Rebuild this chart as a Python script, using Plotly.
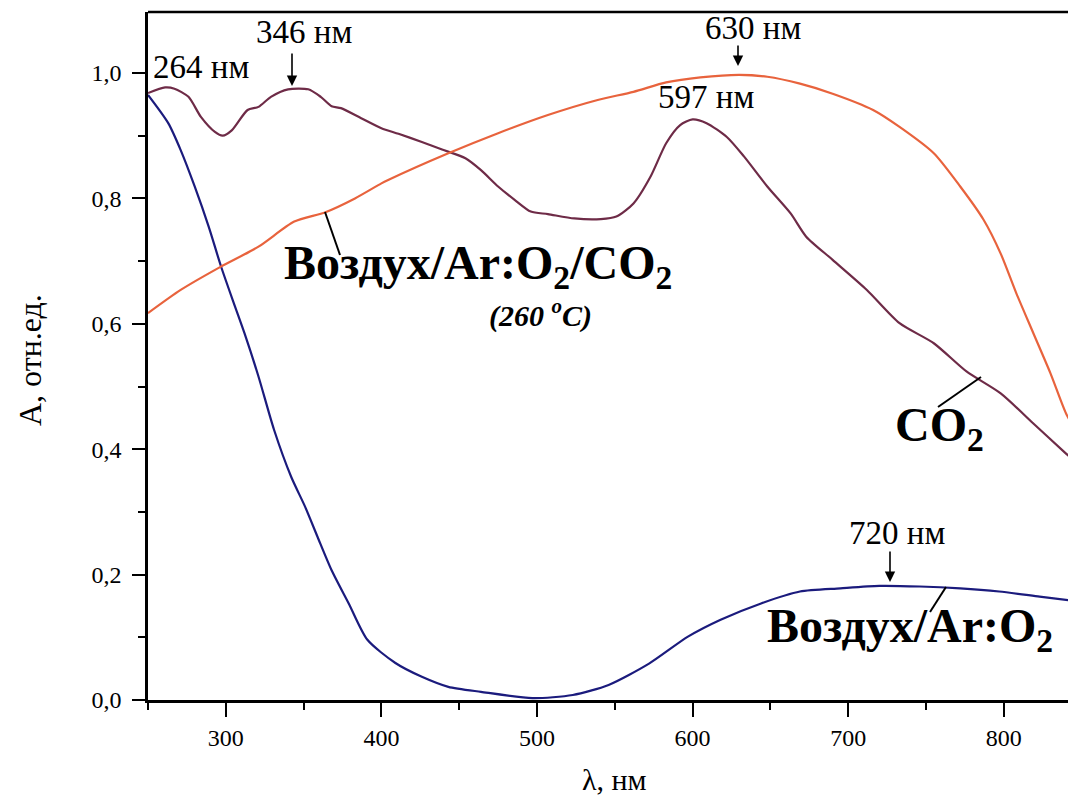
import plotly.graph_objects as go

# ---- data ----
wl_air = [250, 263, 271, 280, 289, 297, 306, 312, 321, 331, 342, 351, 359, 368, 379,
          391, 409, 426, 443, 464, 497, 523, 546, 572, 597, 618, 644, 669, 695, 720,
          746, 772, 797, 823, 846]
a_air = [0.965, 0.920, 0.877, 0.819, 0.755, 0.691, 0.627, 0.585, 0.516, 0.431, 0.356,
         0.308, 0.260, 0.207, 0.154, 0.096, 0.059, 0.037, 0.021, 0.013, 0.003, 0.008,
         0.024, 0.058, 0.101, 0.128, 0.154, 0.173, 0.178, 0.182, 0.181, 0.178, 0.173,
         0.165, 0.158]

wl_co2 = [250, 261, 267, 276, 284, 293, 298, 304, 314, 321, 329, 340, 353, 361, 368,
          374, 387, 400, 411, 426, 439, 454, 464, 475, 486, 496, 507, 524, 541, 551,
          562, 573, 583, 592, 600, 609, 622, 633, 648, 663, 673, 690, 712, 733, 755,
          776, 798, 819, 840, 846]
a_co2 = [0.968, 0.977, 0.975, 0.962, 0.930, 0.906, 0.900, 0.909, 0.941, 0.946, 0.962,
         0.974, 0.974, 0.962, 0.947, 0.944, 0.928, 0.912, 0.903, 0.890, 0.878, 0.864,
         0.845, 0.819, 0.797, 0.779, 0.775, 0.768, 0.767, 0.771, 0.792, 0.835, 0.888,
         0.917, 0.926, 0.920, 0.898, 0.867, 0.819, 0.776, 0.739, 0.702, 0.654, 0.601,
         0.569, 0.524, 0.489, 0.441, 0.393, 0.380]

wl_mix = [250, 271, 296, 321, 344, 364, 383, 400, 404, 443, 475, 507, 539, 562, 583,
          605, 630, 648, 669, 690, 716, 733, 755, 772, 787, 798, 808, 819, 830, 840, 846]
a_mix = [0.617, 0.654, 0.690, 0.723, 0.763, 0.778, 0.800, 0.824, 0.829, 0.872, 0.904,
         0.933, 0.957, 0.970, 0.985, 0.993, 0.997, 0.994, 0.983, 0.967, 0.941, 0.914,
         0.872, 0.819, 0.766, 0.712, 0.649, 0.585, 0.521, 0.457, 0.431]

y_ticks = [0.0, 0.2, 0.4, 0.6, 0.8, 1.0]
y_ticklabels = ["0,0", "0,2", "0,4", "0,6", "0,8", "1,0"]
x_ticks = [300, 400, 500, 600, 700, 800]
x_ticklabels = ["300", "400", "500", "600", "700", "800"]

# ---- geometry (page has an 8px body margin) ----
OFF = 8
W, H = 1076 - 2 * OFF, 807 - 2 * OFF
SL, ST, SB = 148, 12, 700              # plot edges in screen pixels
L, T, B, R = SL - OFF, ST - OFF, H - (SB - OFF), 0
PLOT_W = W - L - R
PLOT_H = H - T - B
X0, PX_PER_NM = 250.0, 1.556
PX_PER_A = 627.0
XMAX = X0 + PLOT_W / PX_PER_NM
YMAX = PLOT_H / PX_PER_A


def dx(px):
    return X0 + (px - SL) / PX_PER_NM


def dy(py):
    return (SB - py) / PX_PER_A


def paper_x(px):
    return (px - SL) / PLOT_W


def paper_y(py):
    return (SB - py) / PLOT_H


SERIF = "Liberation Serif"
fig = go.Figure()
for xs, ys, col, nm in [(wl_air, a_air, "#1b1b7d", "Воздух/Ar:O2"),
                        (wl_co2, a_co2, "#6e2b47", "CO2"),
                        (wl_mix, a_mix, "#e8633d", "Воздух/Ar:O2/CO2")]:
    fig.add_trace(go.Scatter(x=xs, y=ys, mode="lines", name=nm,
                             line=dict(color=col, width=2.2, shape="spline", smoothing=0.7)))

annots = []
for txt, cx, cy in [("264 нм", 201, 67), ("346 нм", 304, 32), ("630 нм", 753, 28),
                    ("597 нм", 706, 97), ("720 нм", 897, 533)]:
    annots.append(dict(x=dx(cx), y=dy(cy), text=txt, showarrow=False,
                       font=dict(family=SERIF, size=33, color="black"),
                       xanchor="center", yanchor="middle"))
for tipx, tipy, taily in [(292, 86, 52), (738, 66, 44), (890, 582, 550)]:
    annots.append(dict(x=dx(tipx), y=dy(tipy), ax=dx(tipx), ay=dy(taily),
                       axref="x", ayref="y", text="", showarrow=True,
                       arrowhead=2, arrowsize=1.3, arrowwidth=1.6, arrowcolor="black"))

bold = dict(family=SERIF, size=48, color="black")
annots.append(dict(x=dx(282), y=dy(266), text="<b>Воздух/Ar:O<sub>2</sub>/CO<sub>2</sub></b>",
                   showarrow=False, font=bold, xanchor="left", yanchor="middle"))
annots.append(dict(x=dx(540), y=dy(313), text="<b><i>(260 <sup>o</sup>C)</i></b>",
                   showarrow=False, font=dict(family=SERIF, size=30, color="black"),
                   xanchor="center", yanchor="middle"))
annots.append(dict(x=dx(893), y=dy(428), text="<b>CO<sub>2</sub></b>",
                   showarrow=False, font=bold, xanchor="left", yanchor="middle"))
annots.append(dict(x=dx(765), y=dy(629), text="<b>Воздух/Ar:O<sub>2</sub></b>",
                   showarrow=False, font=bold, xanchor="left", yanchor="middle"))
annots.append(dict(x=paper_x(30), y=paper_y(360), xref="paper", yref="paper",
                   text="А, отн.ед.", textangle=-90, showarrow=False,
                   xanchor="center", yanchor="middle",
                   font=dict(family=SERIF, size=32, color="black")))
annots.append(dict(x=paper_x(614), y=paper_y(779), xref="paper", yref="paper",
                   text="λ, нм", showarrow=False, xanchor="center", yanchor="middle",
                   font=dict(family=SERIF, size=30, color="black")))

shapes = [dict(type="line", xref="paper", yref="paper", x0=0, x1=1, y0=1, y1=1,
               line=dict(color="black", width=2.5))]
for (ax_, ay_, bx_, by_) in [(325, 212, 340, 255), (938, 407, 981, 377), (930, 612, 946, 587)]:
    shapes.append(dict(type="line", x0=dx(ax_), y0=dy(ay_), x1=dx(bx_), y1=dy(by_),
                       line=dict(color="black", width=2)))

fig.update_layout(
    width=W, height=H, margin=dict(l=L, r=R, t=T, b=B, autoexpand=False),
    plot_bgcolor="white", paper_bgcolor="white", showlegend=False,
    font=dict(family=SERIF, color="black"),
    annotations=annots, shapes=shapes,
    xaxis=dict(range=[X0, XMAX], tickvals=x_ticks, ticktext=x_ticklabels,
               showgrid=False, zeroline=False, showline=True, linecolor="black",
               linewidth=2.5, ticks="outside", ticklen=14, tickwidth=2, tickcolor="black",
               tickfont=dict(family=SERIF, size=24, color="black"),
               minor=dict(dtick=50, tick0=250, ticks="outside", ticklen=7, tickwidth=2,
                          tickcolor="black", showgrid=False)),
    yaxis=dict(range=[0, YMAX], tickvals=y_ticks, ticktext=y_ticklabels,
               showgrid=False, zeroline=False, showline=True, linecolor="black",
               linewidth=2.5, ticks="outside", ticklen=13, tickwidth=2, tickcolor="black",
               ticklabelstandoff=6,
               tickfont=dict(family=SERIF, size=24, color="black"),
               minor=dict(dtick=0.1, tick0=0, ticks="outside", ticklen=7, tickwidth=2,
                          tickcolor="black", showgrid=False)),
)

fig.write_html("out.html")
